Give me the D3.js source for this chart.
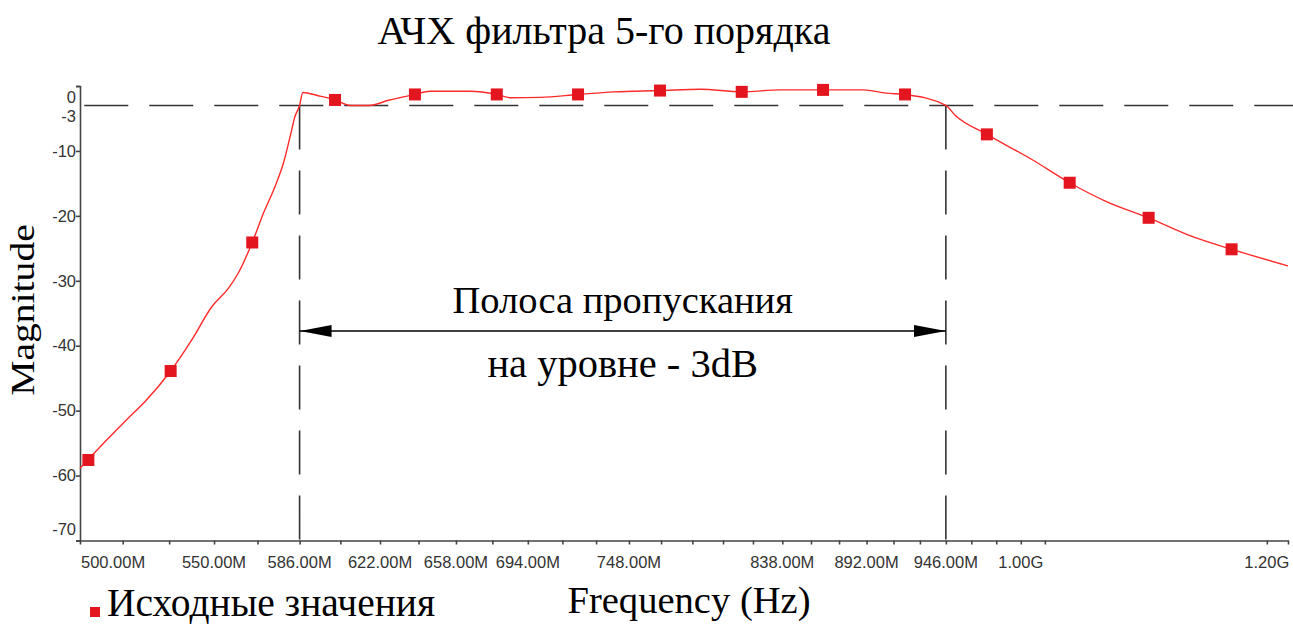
<!DOCTYPE html>
<html>
<head>
<meta charset="utf-8">
<script src="https://cdn.jsdelivr.net/npm/d3@7"></script>
<style>
  html, body { margin: 0; padding: 0; background: #fff; }
  svg { display: block; }
  .tick-label { font-family: "Liberation Sans", Arial, sans-serif; font-size: 16.5px; fill: #333; }
  .serif { font-family: "Liberation Serif", "Times New Roman", serif; fill: #000; }
</style>
</head>
<body>
<svg id="chart" width="1293" height="624"></svg>
<script>
// Simulated response of the 5th-order filter (frequency in MHz, magnitude in dB)
const lineFreq = [498, 507.3, 515.5, 522.6, 532.6, 541.0, 549.1, 555.8, 560.0, 565.8,
  570.5, 575.4, 579.0, 581.9, 584.0, 586, 587.4, 594.2, 601.6, 608.5, 617.0, 626.0,
  638.3, 645.5, 664.9, 678.2, 685.0, 700.3, 720.3, 739.4, 765.4, 788.5, 813.2, 836.7,
  863.7, 889.8, 905.0, 917.8, 946, 952.5, 975.2, 1008.9, 1036.9, 1065.5, 1099.4,
  1135.9, 1169.1, 1219];
const lineMag = [-58.9, -54.8, -51.4, -48.6, -43.9, -39.1, -34.0, -31.2, -28.8, -24.1,
  -19.6, -15.5, -11.9, -7.8, -4.7, -3.0, -1.0, -1.5, -2.15, -3.0, -3.0, -2.2,
  -1.3, -0.8, -0.8, -1.3, -1.8, -1.75, -1.3, -0.9, -0.7, -0.5, -0.9, -0.6,
  -0.6, -0.6, -1.1, -1.3, -3.0, -4.5, -7.45, -11.4, -14.9, -17.8, -20.3,
  -23.2, -25.15, -27.7];

// Source points ("Исходные значения")
const markerFreq = [501.1, 532.6, 565.8, 601.6, 638.3, 678.2, 720.3, 765.4, 813.2,
  863.7, 917.8, 975.2, 1036.9, 1099.4, 1169.1];
const markerMag = [-57.6, -43.9, -24.1, -2.15, -1.3, -1.3, -1.3, -0.7, -0.9,
  -0.6, -1.3, -7.45, -14.9, -20.3, -25.15];

// Axis ticks
const xMinorTicks = [514, 532, 550, 568, 586, 604, 622, 640, 658, 676, 694, 712, 730,
  748, 766, 784, 802, 820, 838, 856, 874, 892, 910, 928, 946, 964, 982, 1000, 1018, 1200];
const xTickValues = [500, 550, 586, 622, 658, 694, 748, 838, 892, 946, 1000, 1200];
const xTickLabels = ["500.00M", "550.00M", "586.00M", "622.00M", "658.00M", "694.00M",
  "748.00M", "838.00M", "892.00M", "946.00M", "1.00G", "1.20G"];
const yTickValues = [0, -3, -10, -20, -30, -40, -50, -60, -70];
const yTickLabels = ["0", "-3", "-10", "-20", "-30", "-40", "-50", "-60", "-70"];

// Pass band at the -3 dB level
const bandEdges = [586, 946];
const bandLevel = -3;

const title = "АЧХ фильтра 5-го порядка";
const xTitle = "Frequency (Hz)";
const yTitle = "Magnitude";
const bandText = ["Полоса пропускания", "на уровне - 3dB"];
const legendText = "Исходные значения";

const svg = d3.select("#chart");
const plot = { left: 80, right: 1288, top: 86, bottom: 540.5 };

const x = d3.scaleLog().domain([498, 1219]).range([plot.left, plot.right]);
const y = d3.scaleLinear().domain([-70, 0]).range([plot.bottom, plot.top]);

const axisColor = "#444";
const red = "#ff2b2b";
const markerRed = "#e3161f";

// Dashed -3 dB level line
svg.append("line")
  .attr("x1", plot.left).attr("x2", 1293)
  .attr("y1", y(bandLevel)).attr("y2", y(bandLevel))
  .attr("stroke", "#333").attr("stroke-width", 1.6)
  .attr("stroke-dasharray", "44,21").attr("stroke-dashoffset", 60.7);

// Dashed verticals at the band edges
bandEdges.forEach(f => {
  svg.append("line")
    .attr("x1", x(f)).attr("x2", x(f))
    .attr("y1", y(bandLevel)).attr("y2", plot.bottom)
    .attr("stroke", "#333").attr("stroke-width", 1.6)
    .attr("stroke-dasharray", "44,21");
});

// X axis
const xAxis = d3.axisBottom(x).tickValues(xMinorTicks).tickSize(4).tickSizeOuter(4).tickFormat("");
const gx = svg.append("g").attr("transform", `translate(0,${plot.bottom})`).call(xAxis);
gx.selectAll("path, line").attr("stroke", axisColor).attr("stroke-width", 1.6);

svg.append("g").selectAll("text")
  .data(xTickValues)
  .join("text")
  .attr("class", "tick-label")
  .attr("x", (d, i) => i === 0 ? plot.left + 1 : x(d))
  .attr("y", plot.bottom + 27)
  .attr("text-anchor", (d, i) => i === 0 ? "start" : "middle")
  .text((d, i) => xTickLabels[i]);

// Y axis
const yAxis = d3.axisLeft(y).tickValues(yTickValues).tickSize(4).tickSizeOuter(4).tickFormat("");
const gy = svg.append("g").attr("transform", `translate(${plot.left},0)`).call(yAxis);
gy.selectAll("path, line").attr("stroke", axisColor).attr("stroke-width", 1.6);
gy.selectAll(".tick").filter(d => d === bandLevel).select("line").remove();

// End labels are nudged inside the axis range
const yLabelShift = v => (v === 0 || v === bandLevel) ? 11 : (v === -70 ? -11 : 0);
svg.append("g").selectAll("text")
  .data(yTickValues)
  .join("text")
  .attr("class", "tick-label")
  .attr("x", plot.left - 4)
  .attr("y", d => y(d) + yLabelShift(d))
  .attr("dy", "0.35em")
  .attr("text-anchor", "end")
  .text((d, i) => yTickLabels[i]);

// Response curve
const lineData = lineFreq.map((f, i) => [f, lineMag[i]]);
svg.append("path")
  .datum(lineData)
  .attr("fill", "none")
  .attr("stroke", red)
  .attr("stroke-width", 1.4)
  .attr("d", d3.line().curve(d3.curveMonotoneX).x(d => x(d[0])).y(d => y(d[1])));

// Markers
const ms = 12;
svg.append("g").selectAll("rect")
  .data(markerFreq.map((f, i) => [f, markerMag[i]]))
  .join("rect")
  .attr("x", d => x(d[0]) - ms / 2)
  .attr("y", d => y(d[1]) - ms / 2)
  .attr("width", ms).attr("height", ms)
  .attr("fill", markerRed);

// Pass band arrow
const defs = svg.append("defs");
defs.append("marker")
  .attr("id", "arrowhead")
  .attr("viewBox", "0 0 32 12")
  .attr("refX", 32).attr("refY", 6)
  .attr("markerWidth", 32).attr("markerHeight", 12)
  .attr("markerUnits", "userSpaceOnUse")
  .attr("orient", "auto-start-reverse")
  .append("path").attr("d", "M0,0 L32,6 L0,12 Z").attr("fill", "#000");

const arrowY = 331;
svg.append("line")
  .attr("x1", x(bandEdges[0])).attr("x2", x(bandEdges[1]))
  .attr("y1", arrowY).attr("y2", arrowY)
  .attr("stroke", "#000").attr("stroke-width", 1.6)
  .attr("marker-start", "url(#arrowhead)")
  .attr("marker-end", "url(#arrowhead)");

const bandMid = (x(bandEdges[0]) + x(bandEdges[1])) / 2;
svg.append("text").attr("class", "serif")
  .attr("x", bandMid).attr("y", 313).attr("text-anchor", "middle")
  .style("font-size", "38.5px").text(bandText[0]);
svg.append("text").attr("class", "serif")
  .attr("x", bandMid).attr("y", 377).attr("text-anchor", "middle")
  .style("font-size", "40.5px").text(bandText[1]);

// Titles
svg.append("text").attr("class", "serif")
  .attr("x", 604).attr("y", 44).attr("text-anchor", "middle")
  .style("font-size", "40px").text(title);

svg.append("text").attr("class", "serif")
  .attr("x", 689).attr("y", 613).attr("text-anchor", "middle")
  .style("font-size", "38.6px").text(xTitle);

svg.append("text").attr("class", "serif")
  .attr("transform", "translate(34,310) rotate(-90) scale(1.2,1)")
  .attr("text-anchor", "middle")
  .style("font-size", "33px").text(yTitle);

// Legend
svg.append("rect").attr("x", 90).attr("y", 607).attr("width", 10).attr("height", 10).attr("fill", markerRed);
svg.append("text").attr("class", "serif")
  .attr("x", 107).attr("y", 616)
  .style("font-size", "39.5px").text(legendText);
</script>
</body>
</html>
